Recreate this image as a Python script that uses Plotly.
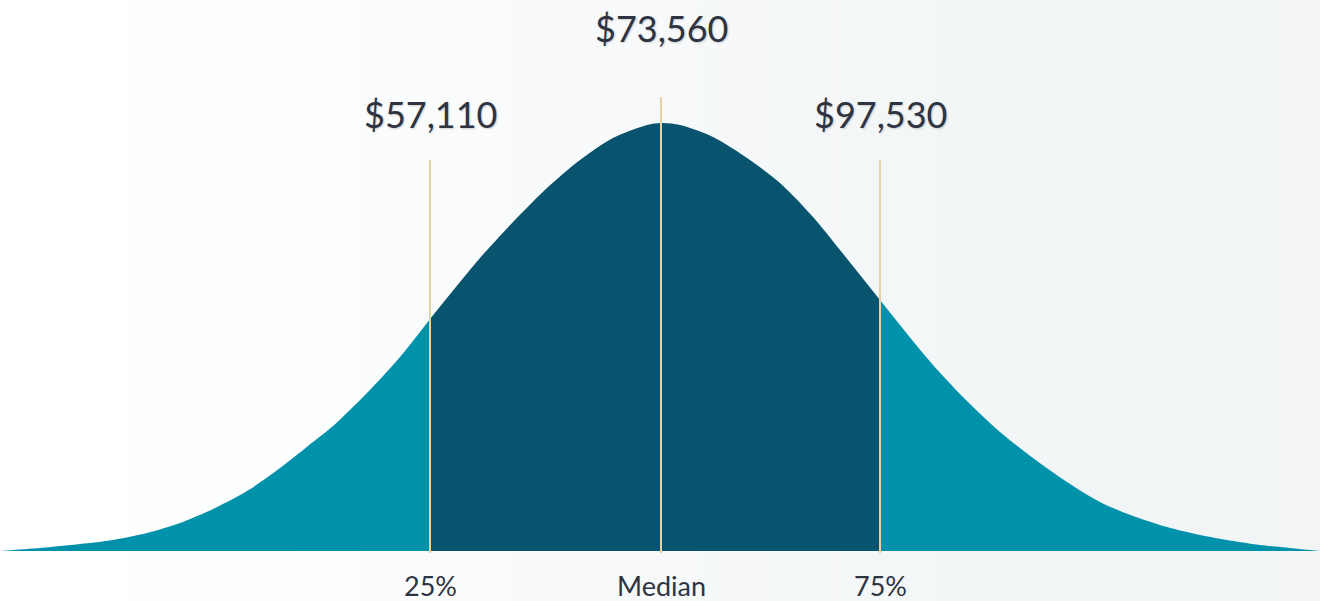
import plotly.graph_objects as go

# Curve: horizontal position (px-like units) and density height
curve_pos = [0, 40, 80, 113, 147, 180, 213, 247, 280, 313, 333, 367, 400, 430, 480, 513, 547, 580,
             613, 647, 661, 680, 713, 747, 780, 813, 840, 880, 927, 960, 1000, 1033, 1067, 1100,
             1133, 1167, 1200, 1233, 1260, 1290, 1320]
curve_height = [0, 3, 7, 11, 18, 28, 42, 60, 83, 109, 125, 158, 194, 232, 293, 329, 363, 391,
                413, 426, 428, 426, 414, 393, 368, 334, 301, 251, 193, 157, 119, 93, 69, 49,
                35, 24, 16, 10, 6, 3, 0]

# Percentile markers
marker_pos = [430, 661, 880]
marker_values = ["$57,110", "$73,560", "$97,530"]
marker_names = ["25%", "Median", "75%"]
marker_line_top = [391, 454, 391]
value_label_y = [437, 523, 437]

TAIL = "#0092AB"
CENTER = "#08546E"
LINE = "#E6D3A4"
TEXT = "#2E3441"
FONT = "Lato"

fig = go.Figure()

# background gradient
bg_x = [-10, 250, 660, 1100, 1330]
fig.add_trace(go.Heatmap(
    x=bg_x, y=[-60, 560], z=[bg_x, bg_x], zsmooth="best", showscale=False, hoverinfo="skip",
    colorscale=[[0, "#FFFFFF"], [0.2, "#FDFEFE"], [0.5, "#F7F9FA"], [0.83, "#F1F5F6"], [1, "#F3F5F5"]],
))

i_lo = curve_pos.index(marker_pos[0])
i_hi = curve_pos.index(marker_pos[2])
segments = [
    (curve_pos[:i_lo + 1], curve_height[:i_lo + 1], TAIL),
    (curve_pos[i_lo:i_hi + 1], curve_height[i_lo:i_hi + 1], CENTER),
    (curve_pos[i_hi:], curve_height[i_hi:], TAIL),
]
for xs, ys, col in segments:
    fig.add_trace(go.Scatter(
        x=xs, y=ys, mode="lines", line=dict(color=col, width=0, shape="spline", smoothing=0.8),
        fill="tozeroy", fillcolor=col, hoverinfo="skip", showlegend=False,
    ))

for p, top in zip(marker_pos, marker_line_top):
    fig.add_trace(go.Scatter(
        x=[p, p], y=[-2, top], mode="lines", line=dict(color=LINE, width=2),
        hoverinfo="skip", showlegend=False,
    ))

for p, v, n, vy in zip(marker_pos, marker_values, marker_names, value_label_y):
    fig.add_annotation(x=p, y=vy, text=v, showarrow=False, xanchor="center", yanchor="middle",
                       font=dict(family=FONT, size=36, color=TEXT,
                                 shadow="1px 1px 2px rgba(0,0,0,0.18)"))
    fig.add_annotation(x=p, y=-34, text=n, showarrow=False, xanchor="center", yanchor="middle",
                       font=dict(family=FONT, size=27, color=TEXT))

fig.update_layout(
    width=1320, height=601, margin=dict(l=0, r=0, t=0, b=0),
    paper_bgcolor="#FFFFFF", plot_bgcolor="#FFFFFF", showlegend=False,
    xaxis=dict(range=[0, 1320], visible=False, fixedrange=True),
    yaxis=dict(range=[-50, 551], visible=False, fixedrange=True),
)

fig.write_html("out.html", config={"displayModeBar": False},
               post_script="document.body.style.margin='0px';document.body.style.overflow='hidden';")
